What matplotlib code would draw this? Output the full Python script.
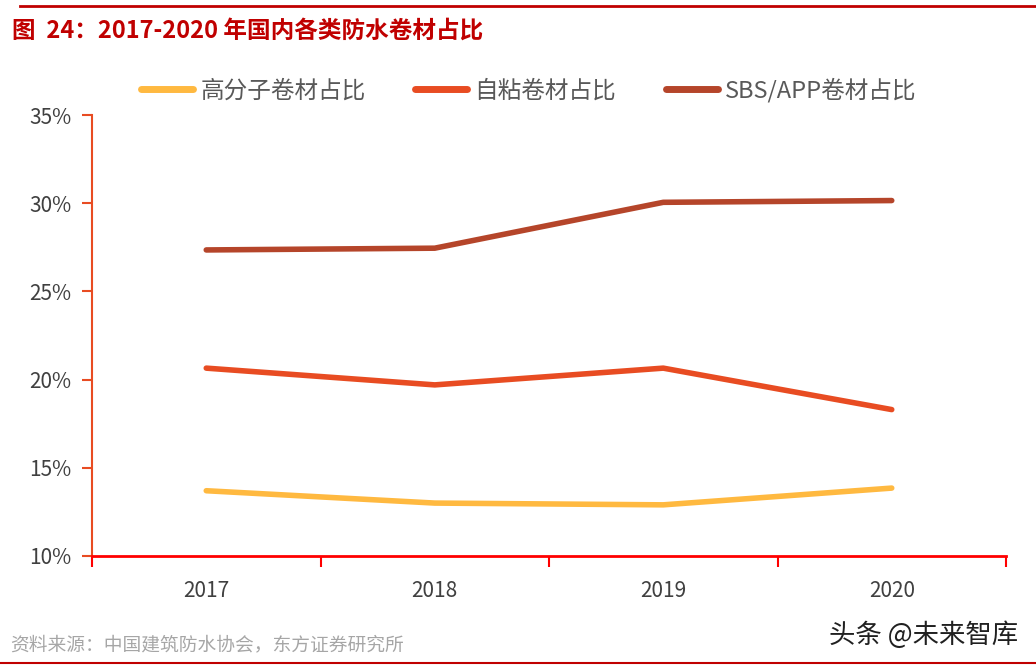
import matplotlib.pyplot as plt
from matplotlib.lines import Line2D
from matplotlib.ticker import FuncFormatter

plt.rcParams['font.family'] = ['Noto Sans CJK SC', 'DejaVu Sans']

years = ['2017', '2018', '2019', '2020']
polymer = [13.7, 13.0, 12.9, 13.85]
self_adhesive = [20.65, 19.7, 20.65, 18.3]
sbs_app = [27.35, 27.45, 30.05, 30.15]
series_names = ['高分子卷材占比', '自粘卷材占比', 'SBS/APP卷材占比']
colors = ['#FFB940', '#E84C22', '#B5452A']

W, H = 1036, 669
fig = plt.figure(figsize=(W / 100, H / 100), dpi=100)
ax = fig.add_axes([92 / W, 1 - 556 / H, (1006 - 92) / W, (556 - 115) / H])

x = range(len(years))
for vals, c, name in zip([polymer, self_adhesive, sbs_app], colors, series_names):
    ax.plot(x, vals, color=c, lw=4, solid_capstyle='round', label=name)

ax.set_xlim(-0.5, 3.5)
ax.set_ylim(10, 35)
ax.set_yticks([10, 15, 20, 25, 30, 35])
ax.yaxis.set_major_formatter(FuncFormatter(lambda v, p: f'{v:.0f}%'))
ax.set_xticks([-0.5, 0.5, 1.5, 2.5, 3.5], minor=False)
ax.set_xticklabels([])
ax.set_xticks(list(x), minor=True)
ax.set_xticklabels(years, minor=True)
ax.tick_params(axis='x', which='major', length=8, width=1.5, color='#FF0000', direction='out')
ax.tick_params(axis='x', which='minor', length=0, pad=17, labelsize=15, labelcolor='#404040')
ax.tick_params(axis='y', length=7, width=1.5, color='#E84C22', labelsize=15, labelcolor='#404040', pad=8)

for s in ['top', 'right']:
    ax.spines[s].set_visible(False)
ax.spines['left'].set_color('#E84C22')
ax.spines['left'].set_linewidth(1.5)
ax.spines['bottom'].set_color('#FF0000')
ax.spines['bottom'].set_linewidth(2)

handles = [Line2D([0], [0], color=c, lw=5, solid_capstyle='round') for c in colors]
fig.legend(handles, series_names, loc='center', bbox_to_anchor=(529 / W, 1 - 90 / H),
           ncol=3, frameon=False, fontsize=17, handlelength=2.2, handletextpad=0.3,
           columnspacing=2.1, labelcolor='#595959')

fig.add_artist(Line2D([20 / W, 1], [1 - 6 / H, 1 - 6 / H], color='#C00000', lw=2))
fig.add_artist(Line2D([0, 1], [1 - 663 / H, 1 - 663 / H], color='#C00000', lw=1.5))
fig.text(12 / W, 1 - 31 / H, '图  24：2017-2020 年国内各类防水卷材占比', fontsize=17,
         fontweight='bold', color='#C00000', va='center', ha='left')
fig.text(10 / W, 1 - 645 / H, '资料来源：中国建筑防水协会，东方证券研究所', fontsize=13.5,
         color='#A6A6A6', va='center', ha='left')
fig.text(1018 / W, 1 - 635 / H, '头条 @未来智库', fontsize=19, color='#202020',
         va='center', ha='right')

fig.savefig('out.png', dpi=100)
